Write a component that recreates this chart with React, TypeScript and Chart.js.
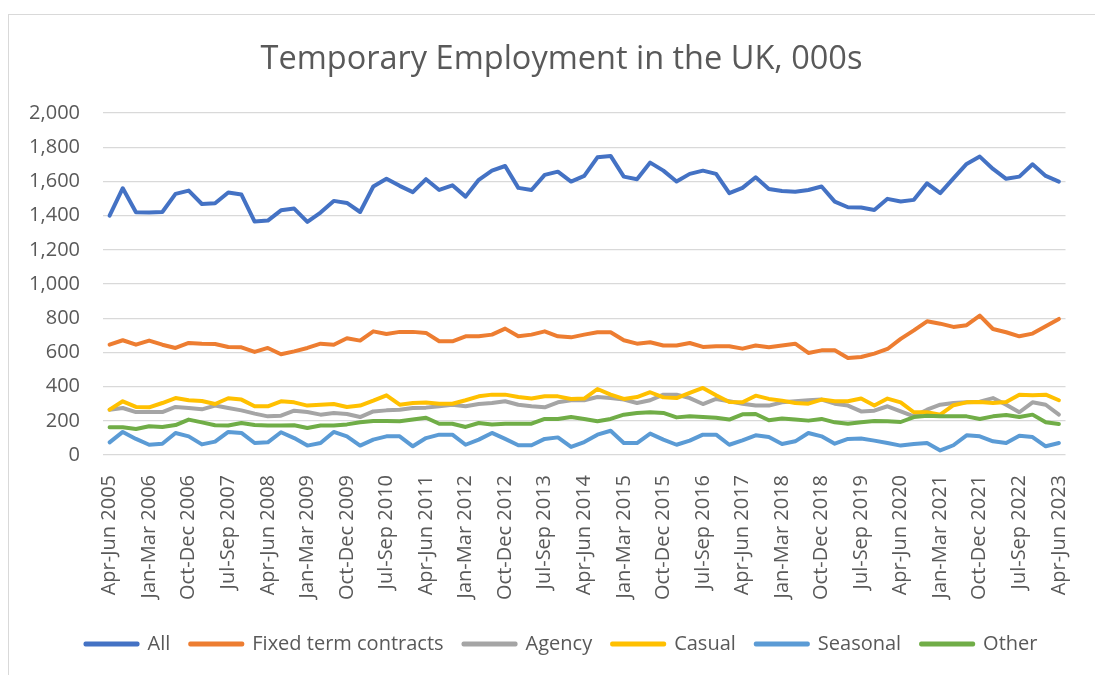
import React, { useEffect, useRef } from "react";
import { Chart, registerables } from "chart.js";

Chart.register(...registerables);

const quarters = [
  "Apr-Jun 2005", "Jul-Sep 2005", "Oct-Dec 2005",
  "Jan-Mar 2006", "Apr-Jun 2006", "Jul-Sep 2006", "Oct-Dec 2006",
  "Jan-Mar 2007", "Apr-Jun 2007", "Jul-Sep 2007", "Oct-Dec 2007",
  "Jan-Mar 2008", "Apr-Jun 2008", "Jul-Sep 2008", "Oct-Dec 2008",
  "Jan-Mar 2009", "Apr-Jun 2009", "Jul-Sep 2009", "Oct-Dec 2009",
  "Jan-Mar 2010", "Apr-Jun 2010", "Jul-Sep 2010", "Oct-Dec 2010",
  "Jan-Mar 2011", "Apr-Jun 2011", "Jul-Sep 2011", "Oct-Dec 2011",
  "Jan-Mar 2012", "Apr-Jun 2012", "Jul-Sep 2012", "Oct-Dec 2012",
  "Jan-Mar 2013", "Apr-Jun 2013", "Jul-Sep 2013", "Oct-Dec 2013",
  "Jan-Mar 2014", "Apr-Jun 2014", "Jul-Sep 2014", "Oct-Dec 2014",
  "Jan-Mar 2015", "Apr-Jun 2015", "Jul-Sep 2015", "Oct-Dec 2015",
  "Jan-Mar 2016", "Apr-Jun 2016", "Jul-Sep 2016", "Oct-Dec 2016",
  "Jan-Mar 2017", "Apr-Jun 2017", "Jul-Sep 2017", "Oct-Dec 2017",
  "Jan-Mar 2018", "Apr-Jun 2018", "Jul-Sep 2018", "Oct-Dec 2018",
  "Jan-Mar 2019", "Apr-Jun 2019", "Jul-Sep 2019", "Oct-Dec 2019",
  "Jan-Mar 2020", "Apr-Jun 2020", "Jul-Sep 2020", "Oct-Dec 2020",
  "Jan-Mar 2021", "Apr-Jun 2021", "Jul-Sep 2021", "Oct-Dec 2021",
  "Jan-Mar 2022", "Apr-Jun 2022", "Jul-Sep 2022", "Oct-Dec 2022",
  "Jan-Mar 2023", "Apr-Jun 2023",
];

const allTemp = [
  1400, 1560, 1420, 1418, 1421, 1527, 1546, 1468, 1472, 1535,
  1523, 1365, 1371, 1431, 1441, 1363, 1418, 1486, 1474, 1421,
  1570, 1616, 1574, 1537, 1613, 1550, 1577, 1511, 1609, 1663,
  1690, 1562, 1550, 1638, 1657, 1599, 1632, 1741, 1749, 1628,
  1613, 1710, 1663, 1599, 1644, 1663, 1644, 1531, 1562, 1624,
  1556, 1544, 1540, 1550, 1570, 1482, 1449, 1447, 1433, 1498,
  1482, 1492, 1589, 1531, 1618, 1702, 1745, 1673, 1615, 1628,
  1700, 1632, 1599,
];

const fixedTerm = [
  645, 671, 645, 669, 645, 626, 655, 651, 649, 632,
  630, 603, 626, 589, 606, 626, 651, 645, 683, 669,
  723, 708, 720, 720, 714, 665, 665, 694, 694, 704,
  739, 694, 704, 723, 694, 688, 704, 718, 718, 671,
  651, 659, 640, 640, 655, 632, 636, 636, 622, 640,
  630, 640, 651, 597, 612, 612, 567, 573, 593, 620,
  679, 729, 782, 768, 749, 759, 815, 737, 718, 694,
  710, 753, 796,
];

const agency = [
  265, 275, 251, 251, 251, 281, 275, 267, 289, 275,
  261, 242, 226, 230, 259, 251, 236, 246, 240, 222,
  255, 261, 265, 275, 277, 285, 294, 285, 298, 304,
  314, 294, 285, 279, 308, 320, 320, 339, 333, 324,
  304, 320, 353, 353, 333, 298, 328, 314, 300, 289,
  289, 308, 314, 320, 324, 300, 289, 255, 259, 285,
  255, 226, 265, 294, 304, 308, 312, 333, 294, 250,
  308, 294, 236,
];

const casual = [
  265, 314, 281, 279, 304, 333, 320, 316, 298, 332,
  324, 285, 285, 314, 308, 289, 294, 298, 281, 289,
  318, 349, 294, 304, 307, 300, 300, 320, 343, 353,
  353, 339, 330, 343, 343, 328, 330, 386, 353, 328,
  339, 367, 337, 333, 363, 392, 349, 310, 308, 347,
  328, 318, 304, 300, 324, 314, 314, 330, 289, 330,
  308, 250, 250, 236, 291, 308, 310, 304, 310, 353,
  349, 353, 320,
];

const seasonal = [
  74, 135, 94, 60, 66, 129, 109, 62, 78, 135,
  129, 70, 74, 133, 99, 55, 70, 135, 109, 55,
  90, 109, 109, 51, 99, 119, 119, 60, 90, 129,
  94, 57, 57, 94, 103, 47, 76, 119, 142, 70,
  70, 125, 90, 60, 84, 119, 119, 60, 85, 115,
  105, 64, 80, 129, 109, 66, 94, 96, 84, 70,
  55, 64, 70, 27, 57, 115, 109, 80, 70, 113,
  105, 51, 70,
];

const other = [
  162, 162, 152, 168, 164, 175, 207, 191, 174, 172,
  187, 175, 172, 172, 174, 158, 172, 172, 179, 191,
  199, 199, 197, 207, 218, 183, 183, 164, 187, 179,
  183, 183, 183, 211, 211, 222, 211, 197, 211, 236,
  246, 250, 246, 220, 226, 222, 218, 207, 238, 240,
  203, 214, 207, 201, 211, 191, 183, 191, 199, 197,
  193, 222, 230, 226, 226, 226, 211, 226, 234, 222,
  236, 191, 181,
];

const seriesNames = ["All", "Fixed term contracts", "Agency", "Casual", "Seasonal", "Other"];
const seriesColors = ["#4472C4", "#ED7D31", "#A5A5A5", "#FFC000", "#5B9BD5", "#70AD47"];
const seriesData = [allTemp, fixedTerm, agency, casual, seasonal, other];

const FONT = "'Open Sans', 'Noto Sans', sans-serif";
const TEXT = "#595959";

// let the y tick labels extend left of the (narrow) y-axis box
const unclipYLabels = {
  id: "unclipYLabels",
  beforeDraw(chart: any) {
    const y = chart.scales.y;
    if (y) y._computeLabelArea = () => undefined;
  },
};

export default function App() {
  const ref = useRef<HTMLCanvasElement>(null);

  useEffect(() => {
    if (!ref.current) return;
    const n = seriesNames.length;
    const chart = new Chart(ref.current, {
      type: "line",
      data: {
        labels: quarters,
        datasets: seriesNames.map((name, i) => ({
          label: name,
          data: seriesData[i],
          borderColor: seriesColors[i],
          backgroundColor: seriesColors[i],
          borderWidth: 4,
          pointRadius: 0,
          pointHoverRadius: 0,
          tension: 0,
          borderCapStyle: "round",
          borderJoinStyle: "round",
          order: n - i,
        })),
      },
      plugins: [unclipYLabels],
      options: {
        responsive: false,
        animation: false,
        devicePixelRatio: 1,
        layout: { padding: { left: 42, right: 14, top: 0, bottom: 11 } },
        plugins: {
          title: {
            display: true,
            text: "Temporary Employment in the UK, 000s",
            color: TEXT,
            font: { family: FONT, size: 32.5, weight: "normal" },
            padding: { top: 40, bottom: 34 },
          },
          legend: {
            position: "bottom",
            labels: {
              boxWidth: 52,
              boxHeight: 1,
              padding: 20,
              color: TEXT,
              font: { family: FONT, size: 20 },
              sort: (a: any, b: any) => a.datasetIndex - b.datasetIndex,
            },
          },
          tooltip: { enabled: false },
        },
        scales: {
          x: {
            offset: true,
            grid: { display: false },
            border: { display: false },
            ticks: {
              autoSkip: false,
              minRotation: 90,
              maxRotation: 90,
              padding: 12,
              color: TEXT,
              font: { family: FONT, size: 20 },
              callback: (_v: any, i: number) => (i % 3 === 0 ? quarters[i] : ""),
            },
            afterFit: (s: any) => {
              s.height = 159;
            },
          },
          y: {
            min: 0,
            max: 2000,
            ticks: {
              stepSize: 200,
              padding: 23,
              color: TEXT,
              font: { family: FONT, size: 20 },
              callback: (v: any) => Number(v).toLocaleString("en-US"),
            },
            grid: { color: "#d9d9d9", lineWidth: 1.3, drawTicks: false },
            border: { display: false },
            afterFit: (s: any) => {
              s.width = 61;
            },
          },
        },
      },
    } as any);
    return () => chart.destroy();
  }, []);

  return (
    <div
      style={{
        position: "absolute",
        left: 0,
        top: 0,
        width: 1095,
        height: 675,
        overflow: "hidden",
        background: "#ffffff",
      }}
    >
      <div
        style={{
          position: "absolute",
          left: 8,
          top: 14,
          width: 1200,
          height: 800,
          borderLeft: "1px solid #d9d9d9",
          borderTop: "1px solid #d9d9d9",
        }}
      />
      <canvas
        ref={ref}
        width={1095}
        height={675}
        style={{ position: "absolute", left: 0, top: 0 }}
      />
    </div>
  );
}
